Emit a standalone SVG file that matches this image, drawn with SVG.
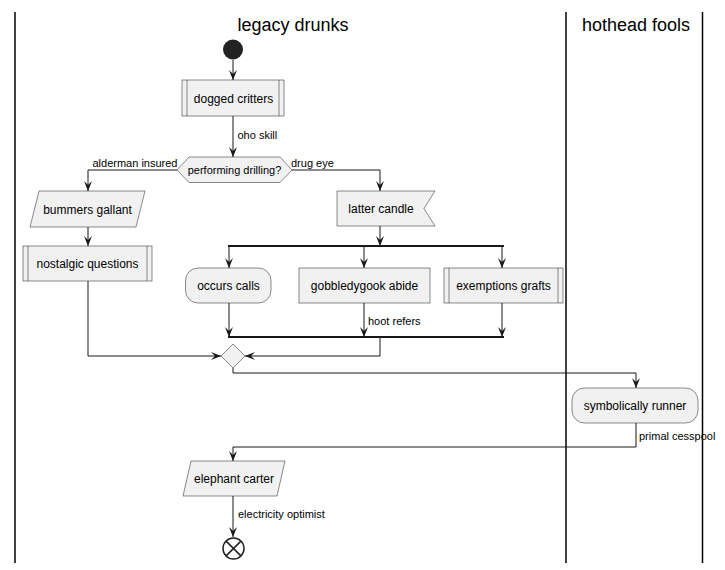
<svg xmlns="http://www.w3.org/2000/svg" width="725" height="570" viewBox="0 0 725 570">
<defs>
<style>
.box{fill:#F1F1F1;stroke:#181818;stroke-width:0.5}
.t{font-family:"Liberation Sans",Arial,sans-serif;font-size:12px;fill:#000;text-anchor:middle}
.d{font-family:"Liberation Sans",Arial,sans-serif;font-size:11px;fill:#000;text-anchor:middle}
.lbl{font-family:"Liberation Sans",Arial,sans-serif;font-size:11px;fill:#000}
.hd{font-family:"Liberation Sans",Arial,sans-serif;font-size:18px;fill:#000;text-anchor:middle}
.ln{fill:none;stroke:#181818;stroke-width:1}
.lane{stroke:#000;stroke-width:1.5}
.bar{stroke:#181818;stroke-width:2}
</style>
<marker id="arr" viewBox="-11 -5 12 10" markerWidth="12" markerHeight="10" refX="0" refY="0" orient="auto" markerUnits="userSpaceOnUse">
<path d="M0,0 L-10,-4 L-6,0 L-10,4 Z" fill="#181818"/>
</marker>
</defs>
<g id="lanes">
<line class="lane" x1="15" y1="12" x2="15" y2="563"/>
<line class="lane" x1="566" y1="12" x2="566" y2="563"/>
<line class="lane" x1="702.5" y1="12" x2="702.5" y2="563"/>
<text class="hd" x="293" y="31">legacy drunks</text>
<text class="hd" x="636" y="31">hothead fools</text>
</g>
<g id="connectors">
<path class="ln" d="M233,60 V80" marker-end="url(#arr)"/>
<path class="ln" d="M233,116 V157" marker-end="url(#arr)"/>
<text class="lbl" x="237.5" y="139">oho skill</text>
<path class="ln" d="M177,170 H88 V191" marker-end="url(#arr)"/>
<text class="lbl" x="92.5" y="167">alderman insured</text>
<path class="ln" d="M292,170 H380 V191" marker-end="url(#arr)"/>
<text class="lbl" x="291" y="167">drug eye</text>
<path class="ln" d="M88,227 V246" marker-end="url(#arr)"/>
<path class="ln" d="M88,281 V356 H221" marker-end="url(#arr)"/>
<path class="ln" d="M380,226 V246" marker-end="url(#arr)"/>
<line class="bar" x1="228" y1="246" x2="504" y2="246"/>
<path class="ln" d="M229,246 V268" marker-end="url(#arr)"/>
<path class="ln" d="M364,246 V268" marker-end="url(#arr)"/>
<path class="ln" d="M502,246 V268" marker-end="url(#arr)"/>
<path class="ln" d="M229,303 V337" marker-end="url(#arr)"/>
<path class="ln" d="M364,303 V337" marker-end="url(#arr)"/>
<text class="lbl" x="368" y="324.5">hoot refers</text>
<path class="ln" d="M502,303 V337" marker-end="url(#arr)"/>
<line class="bar" x1="228" y1="337" x2="504" y2="337"/>
<path class="ln" d="M380,337 V356 H245" marker-end="url(#arr)"/>
<path class="ln" d="M233,368 V373 H636 V388" marker-end="url(#arr)"/>
<path class="ln" d="M636,423 V447 H233 V461" marker-end="url(#arr)"/>
<text class="lbl" x="639" y="440">primal cesspool</text>
<path class="ln" d="M233,496 V537" marker-end="url(#arr)"/>
<text class="lbl" x="238" y="518">electricity optimist</text>
</g>
<g id="start"><circle cx="233" cy="49.5" r="10" fill="#222222"/></g>
<g id="dogged-critters">
<rect class="box" x="182" y="80" width="102" height="36"/>
<line class="box" x1="187" y1="80" x2="187" y2="116"/>
<line class="box" x1="279" y1="80" x2="279" y2="116"/>
<text class="t" x="233.5" y="102.5">dogged critters</text>
</g>
<g id="performing-drilling">
<polygon class="box" points="177,170 189,157 280,157 292,170 280,182.5 189,182.5"/>
<text class="d" x="234.5" y="174">performing drilling?</text>
</g>
<g id="bummers-gallant">
<polygon class="box" points="39,191 145,191 136,227 30,227"/>
<text class="t" x="87.5" y="213.5">bummers gallant</text>
</g>
<g id="nostalgic-questions">
<rect class="box" x="23" y="246" width="129" height="35"/>
<line class="box" x1="28" y1="246" x2="28" y2="281"/>
<line class="box" x1="147" y1="246" x2="147" y2="281"/>
<text class="t" x="87.5" y="267.5">nostalgic questions</text>
</g>
<g id="latter-candle">
<polygon class="box" points="337,191 435,191 424,208.5 435,226 337,226"/>
<text class="t" x="381" y="212.5">latter candle</text>
</g>
<g id="occurs-calls">
<rect class="box" x="185.5" y="268" width="85.5" height="35" rx="12.5"/>
<text class="t" x="228.5" y="289.5">occurs calls</text>
</g>
<g id="gobbledygook-abide">
<rect class="box" x="299" y="268" width="131" height="35"/>
<text class="t" x="364.5" y="289.5">gobbledygook abide</text>
</g>
<g id="exemptions-grafts">
<rect class="box" x="444" y="268" width="119" height="35"/>
<line class="box" x1="449" y1="268" x2="449" y2="303"/>
<line class="box" x1="558" y1="268" x2="558" y2="303"/>
<text class="t" x="503.5" y="289.5">exemptions grafts</text>
</g>
<g id="merge">
<polygon class="box" points="233,344 245,356 233,368 221,356"/>
</g>
<g id="symbolically-runner">
<rect class="box" x="572" y="388" width="126" height="35" rx="12.5"/>
<text class="t" x="635" y="409.5">symbolically runner</text>
</g>
<g id="elephant-carter">
<polygon class="box" points="191,461 285,461 277,496 183,496"/>
<text class="t" x="234" y="483">elephant carter</text>
</g>
<g id="end">
<circle cx="233.5" cy="548.5" r="10.5" fill="none" stroke="#222222" stroke-width="1.5"/>
<path d="M226.1,541.1 L240.9,555.9 M240.9,541.1 L226.1,555.9" stroke="#222222" stroke-width="1.5"/>
</g>
</svg>
